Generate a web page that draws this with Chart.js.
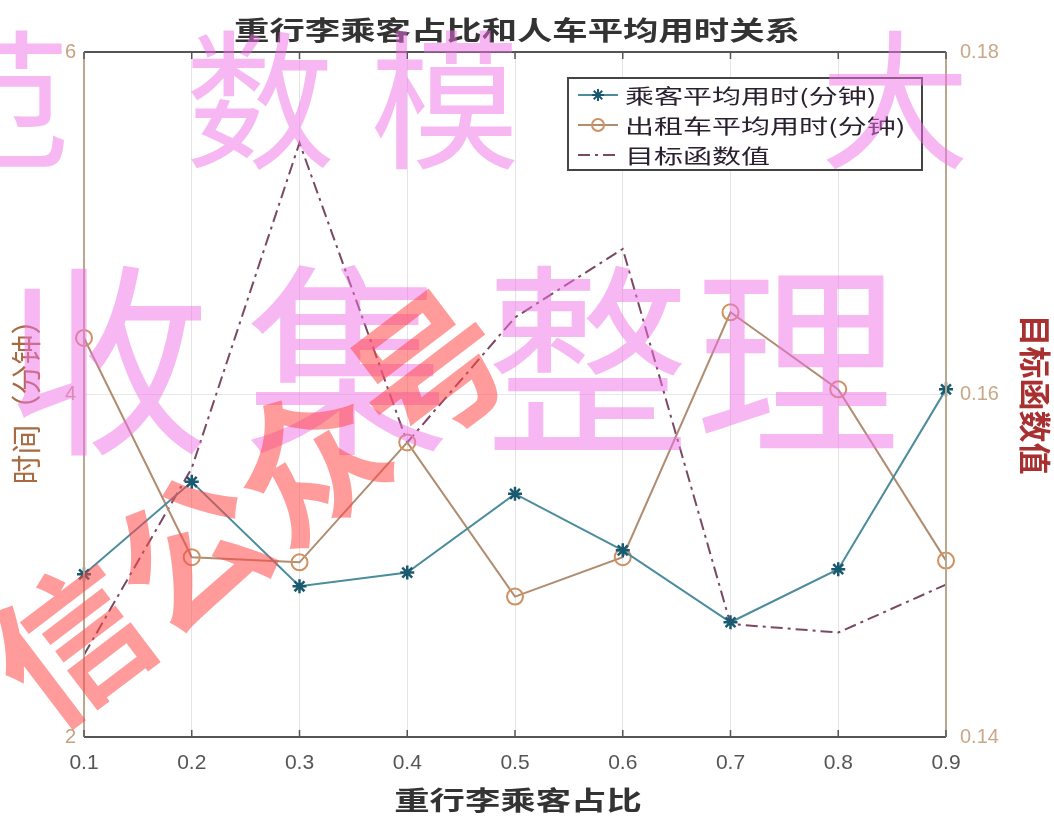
<!DOCTYPE html>
<html>
<head>
<meta charset="utf-8">
<script src="https://cdn.jsdelivr.net/npm/chart.js@4.4.1/dist/chart.umd.min.js"></script>
<style>
  html, body { margin: 0; padding: 0; background: #fff; }
  #wrap { width: 1054px; height: 820px; }
</style>
</head>
<body>
<div id="wrap"><canvas id="lineChart" width="1054" height="820"></canvas></div>
<script>
// 数据
var ratios = ["0.1", "0.2", "0.3", "0.4", "0.5", "0.6", "0.7", "0.8", "0.9"];
var passengerTime = [2.95, 3.49, 2.88, 2.96, 3.42, 3.09, 2.67, 2.98, 4.03];
var taxiTime = [4.33, 3.05, 3.02, 3.72, 2.82, 3.05, 4.48, 4.03, 3.03];
var objectiveValue = [0.1448, 0.1557, 0.1747, 0.1572, 0.1645, 0.1685, 0.1466, 0.1461, 0.1489];
var leftTicks = [2, 4, 6];
var rightTicks = [0.14, 0.16, 0.18];

var cjk = '"Noto Sans CJK SC", "Noto Sans", sans-serif';

// 横向拉伸的文字（原图被横向拉宽了）
function wideText(c, txt, x, y, sx) {
    c.save();
    c.translate(x, y);
    c.scale(sx, 1);
    c.fillText(txt, 0, 0);
    c.restore();
}

// 标题、边框、图例、水印
var extras = {
    id: 'extras',
    afterDatasetsDraw: function (chart) {
        var c = chart.ctx, a = chart.chartArea;
        c.save();
        c.lineWidth = 2;
        c.strokeStyle = '#555';
        c.beginPath();
        c.moveTo(a.left, a.top); c.lineTo(a.right, a.top);
        c.moveTo(a.left, a.bottom); c.lineTo(a.right, a.bottom);
        c.stroke();
        c.strokeStyle = '#b9a890';
        c.beginPath();
        c.moveTo(a.left, a.top); c.lineTo(a.left, a.bottom);
        c.moveTo(a.right, a.top); c.lineTo(a.right, a.bottom);
        c.stroke();

        // x 轴内侧刻度
        var xs = chart.scales.x;
        c.strokeStyle = '#555';
        c.lineWidth = 1.5;
        c.beginPath();
        xs.ticks.forEach(function (t, i) {
            var px = xs.getPixelForTick(i);
            c.moveTo(px, a.bottom); c.lineTo(px, a.bottom - 7);
            c.moveTo(px, a.top); c.lineTo(px, a.top + 7);
        });
        c.stroke();

        // 标题
        c.fillStyle = '#333';
        c.font = 'bold 26px ' + cjk;
        c.textAlign = 'center';
        c.textBaseline = 'middle';
        wideText(c, '重行李乘客占比和人车平均用时关系', (a.left + a.right) / 2 + 2, 30, 1.36);
        // x 轴标题
        wideText(c, '重行李乘客占比', (a.left + a.right) / 2 + 3, 800, 1.36);

        // 图例
        var lx = 568, ly = 78, lw = 354, lh = 92;
        c.fillStyle = '#fff';
        c.fillRect(lx, ly, lw, lh);
        c.strokeStyle = '#444';
        c.lineWidth = 2;
        c.strokeRect(lx, ly, lw, lh);
        c.font = '20px ' + cjk;
        c.textAlign = 'left';
        chart.data.datasets.forEach(function (ds, i) {
            var y = ly + 17 + i * 30;
            c.strokeStyle = ds.borderColor;
            c.lineWidth = 2;
            c.setLineDash(ds.borderDash || []);
            c.beginPath();
            c.moveTo(lx + 10, y); c.lineTo(lx + 50, y);
            c.stroke();
            c.setLineDash([]);
            if (ds.pointStyle === 'star') {
                c.strokeStyle = ds.pointBorderColor;
                c.beginPath();
                for (var k = 0; k < 4; k++) {
                    var ang = k * Math.PI / 4;
                    c.moveTo(lx + 30 - 6 * Math.cos(ang), y - 6 * Math.sin(ang));
                    c.lineTo(lx + 30 + 6 * Math.cos(ang), y + 6 * Math.sin(ang));
                }
                c.stroke();
            } else if (ds.pointStyle === 'circle' && ds.pointRadius > 0) {
                c.strokeStyle = ds.pointBorderColor;
                c.beginPath();
                c.arc(lx + 30, y, 6, 0, Math.PI * 2);
                c.stroke();
            }
            c.fillStyle = '#2a2030';
            wideText(c, ds.label, lx + 57, y + 1, 1.45);
        });

        // 水印
        c.globalAlpha = 0.5;
        c.fillStyle = '#f070e8';
        c.font = '150px ' + cjk;
        c.textAlign = 'left';
        c.textBaseline = 'middle';
        c.fillText('范', -80, 100);
        c.fillText('数', 185, 100);
        c.fillText('模', 370, 100);
        c.fillText('大', 820, 100);
        c.font = '205px ' + cjk;
        c.fillText('收', 5, 360);
        c.fillText('集', 245, 360);
        c.fillText('整', 485, 360);
        c.fillText('理', 695, 360);
        c.globalAlpha = 0.55;
        c.fillStyle = '#ff4848';
        c.font = 'bold 150px ' + cjk;
        c.translate(11, 688);
        c.rotate(-0.65);
        c.fillText('信公众号', 0, 0);
        c.restore();
    }
};

new Chart(document.getElementById('lineChart').getContext('2d'), {
    type: 'line',
    data: {
        labels: ratios,
        datasets: [{
            label: '乘客平均用时(分钟)',
            data: passengerTime,
            yAxisID: 'y',
            borderColor: '#4b8d9c',
            borderWidth: 2,
            pointStyle: 'star',
            pointRadius: 7,
            pointBorderColor: '#1a5a70',
            pointBorderWidth: 2.5,
            fill: false,
            tension: 0
        }, {
            label: '出租车平均用时(分钟)',
            data: taxiTime,
            yAxisID: 'y',
            borderColor: '#b08c70',
            borderWidth: 2,
            pointStyle: 'circle',
            pointRadius: 8,
            pointBackgroundColor: 'rgba(0,0,0,0)',
            pointBorderColor: '#d09060',
            pointBorderWidth: 2,
            fill: false,
            tension: 0
        }, {
            label: '目标函数值',
            data: objectiveValue,
            yAxisID: 'y1',
            borderColor: '#7a4862',
            borderWidth: 2,
            borderDash: [12, 5, 3, 5],
            pointRadius: 0,
            fill: false,
            tension: 0
        }]
    },
    options: {
        responsive: false,
        animation: false,
        layout: { padding: { top: 52, left: 0, right: 0, bottom: 0 } },
        plugins: {
            legend: { display: false },
            title: { display: false },
            tooltip: { enabled: false }
        },
        scales: {
            x: {
                offset: false,
                grid: { color: '#e4e4e4', drawTicks: false },
                border: { display: false },
                ticks: { color: '#555', font: { size: 21, family: 'Liberation Sans' }, padding: 14, maxRotation: 0 },
                afterFit: function (s) { s.height = 83; }
            },
            y: {
                position: 'left',
                min: 2, max: 6,
                afterBuildTicks: function (s) { s.ticks = leftTicks.map(function (v) { return { value: v }; }); },
                grid: { color: '#e8e8e8', drawTicks: false },
                border: { display: false },
                ticks: { color: '#c8a080', font: { size: 20, family: 'Liberation Sans' }, padding: 8 },
                title: { display: true, text: '时间（分钟）', color: '#a86a40', font: { size: 30, family: cjk }, padding: { top: 8 } },
                afterFit: function (s) { s.width = 84; }
            },
            y1: {
                position: 'right',
                min: 0.14, max: 0.18,
                afterBuildTicks: function (s) { s.ticks = rightTicks.map(function (v) { return { value: v }; }); },
                grid: { display: false, drawTicks: false },
                border: { display: false },
                ticks: { color: '#c8a888', font: { size: 20, family: 'Liberation Sans' }, padding: 14,
                    callback: function (v) { return v.toFixed(2); } },
                title: { display: true, text: '目标函数值', color: '#a83030', font: { size: 32, weight: 'bold', family: cjk }, padding: 0 },
                afterFit: function (s) { s.width = 108; }
            }
        }
    },
    plugins: [extras]
});
</script>
</body>
</html>
